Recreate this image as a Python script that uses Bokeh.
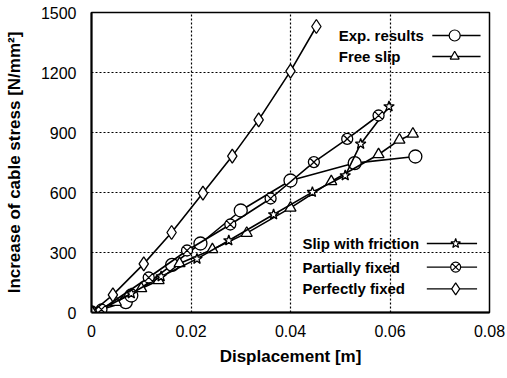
from bokeh.plotting import figure
from bokeh.models import Range1d, FixedTicker, Label
from bokeh.embed import file_html
from bokeh.resources import INLINE

# ---- data ----
disp_exp = [0, 0.0069, 0.0080, 0.0162, 0.0219, 0.0300, 0.0400, 0.0529, 0.0651]
stress_exp = [0, 52, 85, 238, 345, 510, 660, 747, 780]

disp_free = [0, 0.0049, 0.0100, 0.0135, 0.0177, 0.0243, 0.0312, 0.0400, 0.0482, 0.0577, 0.0619, 0.0646]
stress_free = [0, 52, 120, 160, 245, 315, 397, 523, 655, 790, 863, 893]

disp_fric = [0, 0.0020, 0.0080, 0.0140, 0.0212, 0.0276, 0.0366, 0.0444, 0.0510, 0.0541, 0.0598]
stress_fric = [0, 15, 95, 180, 268, 360, 490, 602, 685, 843, 1030]

disp_part = [0, 0.0020, 0.0115, 0.0192, 0.0279, 0.0360, 0.0447, 0.0514, 0.0577]
stress_part = [0, 15, 175, 310, 440, 570, 752, 868, 985]

disp_perf = [0, 0.0043, 0.0105, 0.0161, 0.0224, 0.0283, 0.0336, 0.0400, 0.0452]
stress_perf = [0, 88, 243, 400, 597, 782, 963, 1207, 1430]

x_ticks = [0, 0.02, 0.04, 0.06, 0.08]
x_tick_labels = ["0", "0.02", "0.04", "0.06", "0.08"]
y_ticks = [0, 300, 600, 900, 1200, 1500]

series = [
    ("Exp. results", disp_exp, stress_exp, "circle", 13),
    ("Free slip", disp_free, stress_free, "triangle", 11),
    ("Slip with friction", disp_fric, stress_fric, "star", 11),
    ("Partially fixed", disp_part, stress_part, "circle_x", 11),
    ("Perfectly fixed", disp_perf, stress_perf, "diamond", 14),
]

FONT = "Liberation Sans"

p = figure(width=507, height=378, output_backend="svg", toolbar_location=None,
           x_range=Range1d(0, 0.08), y_range=Range1d(0, 1500),
           min_border_left=91, min_border_right=18, min_border_top=12, min_border_bottom=66)

p.background_fill_color = "white"
p.border_fill_color = "white"
p.outline_line_color = "black"
p.outline_line_width = 1.5

for ax in (p.xaxis[0], p.yaxis[0]):
    ax.major_tick_line_color = None
    ax.minor_tick_line_color = None
    ax.axis_line_color = "black"
    ax.axis_line_width = 2
    ax.major_label_text_font = FONT
    ax.major_label_text_font_size = "16px"
    ax.major_label_text_color = "black"
    ax.axis_label_text_font = FONT
    ax.axis_label_text_font_size = "17px"
    ax.axis_label_text_font_style = "bold"
    ax.axis_label_text_color = "black"

p.xaxis.ticker = FixedTicker(ticks=x_ticks)
p.xaxis.major_label_overrides = {t: l for t, l in zip(x_ticks, x_tick_labels)}
p.yaxis.ticker = FixedTicker(ticks=y_ticks)
p.xaxis.axis_label = "Displacement [m]"
p.yaxis.axis_label = "Increase of cable stress [N/mm²]"
p.xaxis.major_label_standoff = 6
p.xaxis.axis_label_standoff = 7
p.yaxis.major_label_standoff = 9
p.yaxis.axis_label_standoff = 14

p.xgrid.ticker = FixedTicker(ticks=[0.02, 0.04, 0.06])
p.ygrid.ticker = FixedTicker(ticks=[300, 600, 900, 1200])
for g in (p.xgrid[0], p.ygrid[0]):
    g.grid_line_color = "black"
    g.grid_line_dash = "2 2"
    g.grid_line_width = 1.2

for name, xs, ys, mk, sz in series:
    p.line(xs, ys, line_color="black", line_width=1.6)
    p.scatter(xs, ys, marker=mk, size=sz, fill_color="white", line_color="black", line_width=1.3)

# ---- custom legends (text left, symbol right) ----
legend_top = [("Exp. results", "circle", 11, 1385), ("Free slip", "triangle", 9, 1280)]
legend_bot = [("Slip with friction", "star", 10, 345), ("Partially fixed", "circle_x", 10, 227),
              ("Perfectly fixed", "diamond", 12, 118)]

for items, tx, lx0, lx1, mx in [(legend_top, 0.0497, 0.0685, 0.0782, 0.0730),
                                (legend_bot, 0.0424, 0.0674, 0.0775, 0.0732)]:
    for lab, mk, sz, yy in items:
        p.add_layout(Label(x=tx, y=yy, text=lab, text_font=FONT, text_font_size="15px",
                           text_font_style="bold", text_baseline="middle", text_color="black"))
        p.line([lx0, lx1], [yy, yy], line_color="black", line_width=1.3)
        p.scatter([mx], [yy], marker=mk, size=sz, fill_color="white", line_color="black", line_width=1.2)

open("out.html", "w").write(file_html(p, INLINE))
